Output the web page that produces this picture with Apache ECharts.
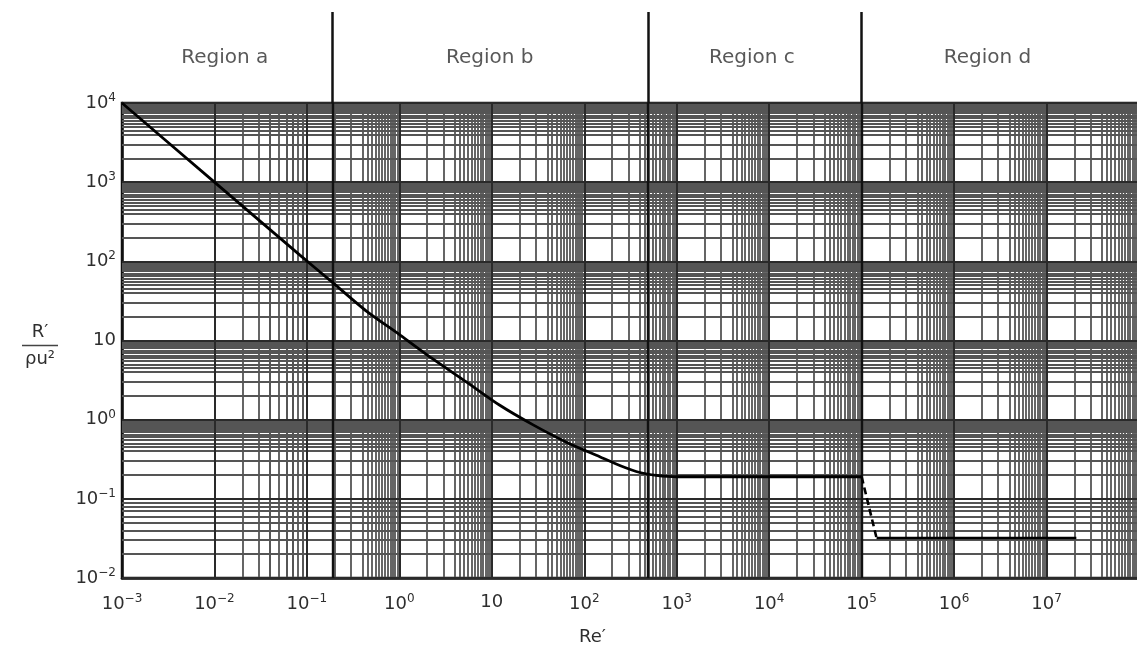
<!DOCTYPE html>
<html><head><meta charset="utf-8">
<script src="https://cdn.jsdelivr.net/npm/echarts@6/dist/echarts.min.js"></script>
<style>html,body{margin:0;background:#fff}#c{width:1137px;height:645px}</style>
</head><body><div id="c"></div>
<script>
// ---- data ----
const reSolidA = [0.001, 0.01, 0.084, 0.186, 0.44, 1.01, 2.32, 5.3, 12.2, 28, 64, 147, 250, 400, 600, 1000, 1e5];
const cSolidA  = [10000, 1000, 120, 55, 23.5, 11.8, 5.8, 3.0, 1.52, 0.86, 0.52, 0.34, 0.26, 0.215, 0.198, 0.19, 0.19];
const reDashed = [1e5, 1.45e5];
const cDashed  = [0.19, 0.032];
const reSolidD = [1.45e5, 2.1e7];
const cSolidD  = [0.032, 0.032];
const regionNames = ['Region a', 'Region b', 'Region c', 'Region d'];
const regionCentres = [0.0129, 9.5, 6.5e3, 2.3e6];
const regionBounds = [0.186, 490, 1e5];
const xTickLabels = ['10^−3','10^−2','10^−1','10^0','10','10^2','10^3','10^4','10^5','10^6','10^7',''];
const yTickLabels = ['10^−2','10^−1','10^0','10','10^2','10^3','10^4'];
const minorMantissas = [2,3,4,4.5,5,5.5,6,6.5,7,7.5,8,8.5,9,9.5];
const xMinExp = -3, xMaxExp = 8, yMinExp = -2, yMaxExp = 4;

// ---- build ----
const TXT = '#2e2e2e';
const FONT = 'DejaVu Sans';
function richLabel(s) {
  if (!s) return '';
  const p = s.split('^');
  return p.length > 1 ? '{b|' + p[0] + '}{s|' + p[1] + '}' : '{b|' + p[0] + '}';
}
const richStyle = {
  b: {fontSize: 18, fontFamily: FONT, color: TXT},
  s: {fontSize: 12, fontFamily: FONT, color: TXT, padding: [0, 0, 10, 0]}
};
const majorMarksX = [], majorMarksY = [];
for (let e = xMinExp; e <= xMaxExp; e++) majorMarksX.push({xAxis: Math.pow(10, e)});
for (let e = yMinExp; e <= yMaxExp; e++) majorMarksY.push({yAxis: Math.pow(10, e)});
const gridMarks = [];
for (let e = xMinExp; e < xMaxExp; e++) minorMantissas.forEach(m => gridMarks.push({xAxis: m * Math.pow(10, e)}));
for (let e = yMinExp; e < yMaxExp; e++) minorMantissas.forEach(m => gridMarks.push({yAxis: m * Math.pow(10, e)}));
const zip = (a, b) => a.map((v, i) => [v, b[i]]);

const chart = echarts.init(document.getElementById('c'));
chart.setOption({
  animation: false,
  backgroundColor: '#fff',
  grid: [
    {left: 122, top: 103, width: 1017, height: 475, show: true, borderColor: '#111', borderWidth: 2.5,
     backgroundColor: 'transparent', outerBoundsMode: 'none', containLabel: false},
    {left: 122, top: 12, width: 1017, height: 91, show: false, outerBoundsMode: 'none', containLabel: false}
  ],
  xAxis: [
    {type: 'log', logBase: 10, min: Math.pow(10, xMinExp), max: Math.pow(10, xMaxExp), interval: 1, splitNumber: xMaxExp - xMinExp, gridIndex: 0,
     name: 'Re′', nameLocation: 'middle', nameGap: 50,
     nameTextStyle: {fontSize: 18, fontFamily: FONT, color: TXT, padding: [0, 76, 0, 0]},
     axisLine: {show: true, lineStyle: {color: '#111', width: 2.5}},
     axisTick: {show: false},
     axisLabel: {margin: 15, hideOverlap: false, showMaxLabel: true, showMinLabel: true,
       formatter: v => richLabel(xTickLabels[Math.round(Math.log10(v)) - xMinExp]), rich: richStyle},
     splitLine: {show: false}},
    {type: 'log', logBase: 10, min: Math.pow(10, xMinExp), max: Math.pow(10, xMaxExp), gridIndex: 1, show: false}
  ],
  yAxis: [
    {type: 'log', logBase: 10, min: Math.pow(10, yMinExp), max: Math.pow(10, yMaxExp), interval: 1, splitNumber: yMaxExp - yMinExp, gridIndex: 0,
     name: '{n|R′}\n{l| }\n{d|ρu²}', nameLocation: 'middle', nameRotate: 0, nameGap: 64,
     nameTextStyle: {padding: [12, 0, 0, 0], rich: {
       n: {fontSize: 18, fontFamily: FONT, color: TXT, align: 'center', lineHeight: 20},
       l: {width: 36, height: 1.5, lineHeight: 6, backgroundColor: '#444', align: 'center', fontSize: 1},
       d: {fontSize: 18, fontFamily: FONT, color: TXT, align: 'center', lineHeight: 22}
     }},
     axisLine: {show: true, lineStyle: {color: '#111', width: 2.5}},
     axisTick: {show: false},
     axisLabel: {margin: 6, hideOverlap: false,
       formatter: v => richLabel(yTickLabels[Math.round(Math.log10(v)) - yMinExp]), rich: richStyle},
     splitLine: {show: false}},
    {type: 'value', min: 0, max: 1, gridIndex: 1, show: false}
  ],
  series: [
    {type: 'line', xAxisIndex: 0, yAxisIndex: 0, z: 1, silent: true, symbol: 'none',
     data: [[1, 1]], lineStyle: {width: 0},
     markLine: {silent: true, symbol: ['none', 'none'], label: {show: false}, animation: false,
       lineStyle: {color: '#555', width: 1.8, type: 'solid', opacity: 1}, data: gridMarks}},
    {type: 'line', xAxisIndex: 0, yAxisIndex: 0, z: 2, silent: true, symbol: 'none',
     data: [[1, 1]], lineStyle: {width: 0},
     markLine: {silent: true, symbol: ['none', 'none'], label: {show: false}, animation: false,
       lineStyle: {color: '#2a2a2a', width: 2, type: 'solid'}, data: majorMarksX.concat(majorMarksY)}},
    {type: 'line', xAxisIndex: 0, yAxisIndex: 0, z: 2, silent: true, symbol: 'none',
     data: [[1, 1]], lineStyle: {width: 0},
     markLine: {silent: true, symbol: ['none', 'none'], label: {show: false}, animation: false,
       lineStyle: {color: '#111', width: 2.4, type: 'solid'}, data: regionBounds.map(v => ({xAxis: v}))}},
    {type: 'scatter', xAxisIndex: 1, yAxisIndex: 1, symbolSize: 0, silent: true,
     data: regionCentres.map(v => [v, 0.5]),
     label: {show: true, position: 'inside', formatter: p => regionNames[p.dataIndex],
       fontSize: 20, fontFamily: FONT, color: TXT},
     markLine: {silent: true, symbol: ['none', 'none'], label: {show: false}, animation: false,
       lineStyle: {color: '#111', width: 2.5, type: 'solid'}, data: regionBounds.map(v => ({xAxis: v}))}},
    {type: 'line', xAxisIndex: 0, yAxisIndex: 0, z: 5, symbol: 'none', smooth: 0.25,
     data: zip(reSolidA, cSolidA), lineStyle: {color: '#000', width: 2.8}},
    {type: 'line', xAxisIndex: 0, yAxisIndex: 0, z: 5, symbol: 'none',
     data: zip(reDashed, cDashed), lineStyle: {color: '#000', width: 2.6, type: [7, 4]}},
    {type: 'line', xAxisIndex: 0, yAxisIndex: 0, z: 5, symbol: 'none',
     data: zip(reSolidD, cSolidD), lineStyle: {color: '#000', width: 2.4}}
  ]
});
</script></body></html>
